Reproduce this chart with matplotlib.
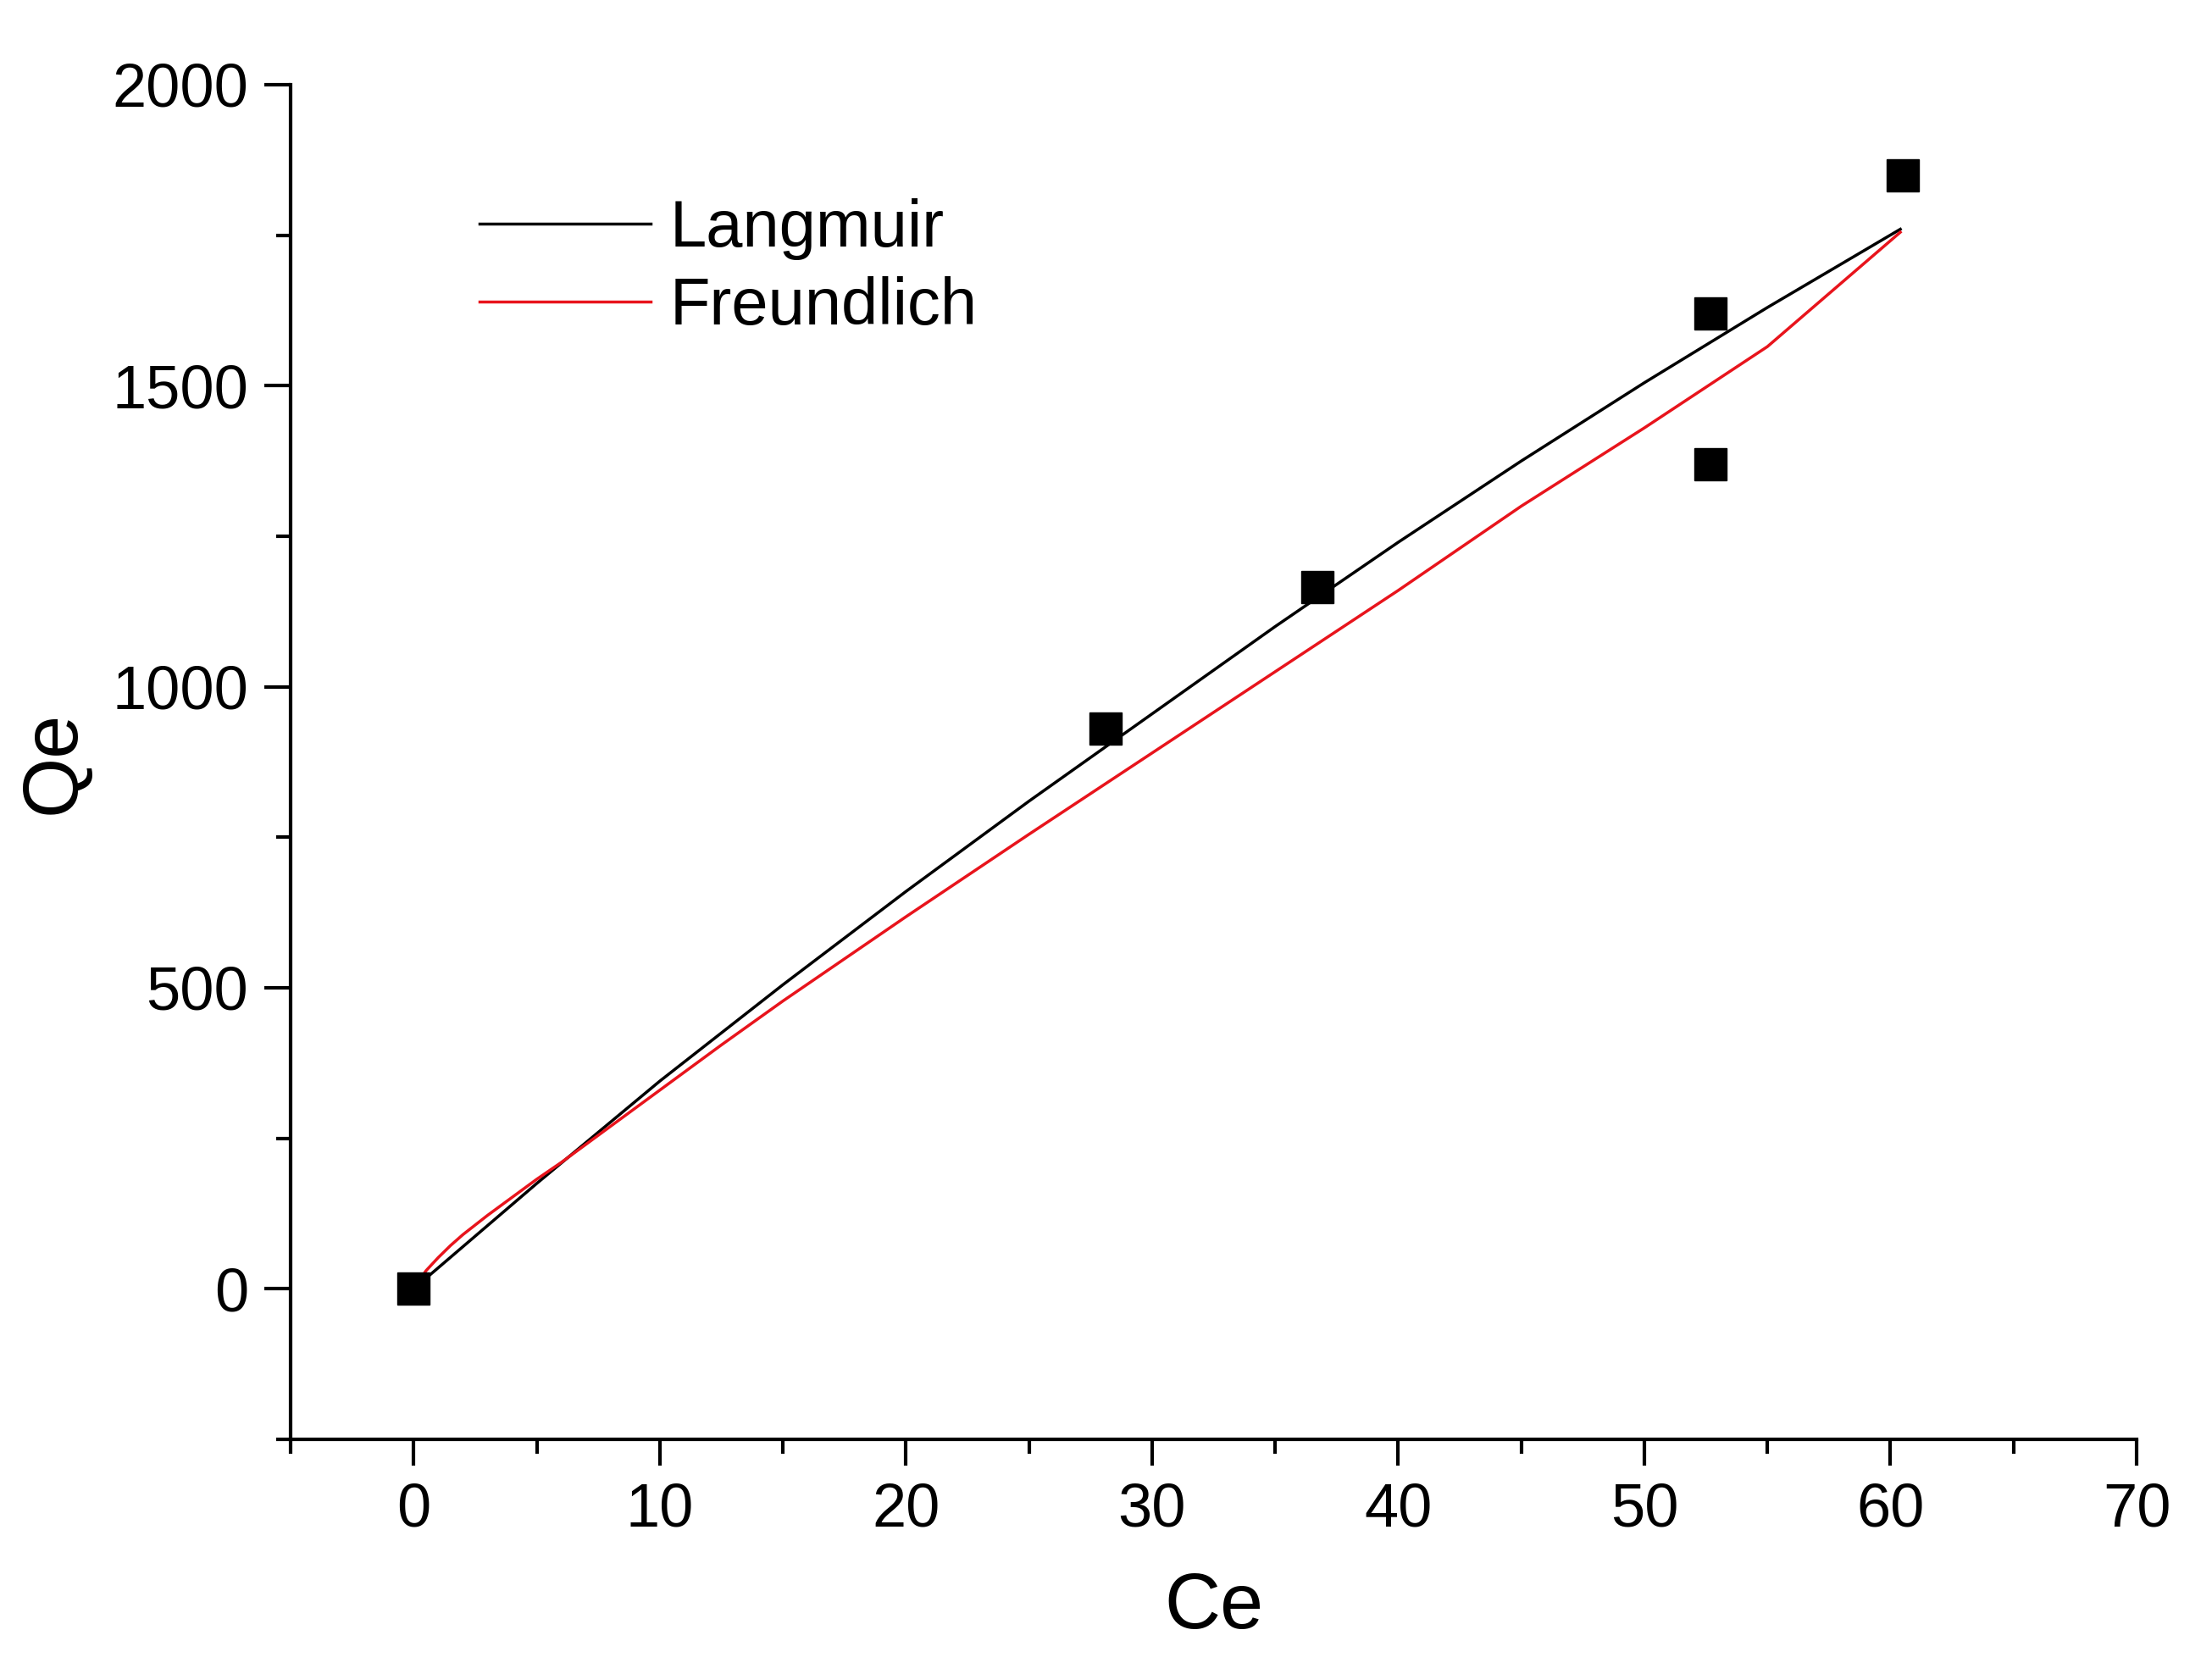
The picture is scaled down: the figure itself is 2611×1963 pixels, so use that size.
import matplotlib

matplotlib.use("Agg")
import matplotlib.pyplot as plt
from matplotlib.ticker import MultipleLocator

plt.rcParams["font.family"] = ["Liberation Sans", "DejaVu Sans"]

# measured points
ce_data = [0, 28.1, 36.7, 52.7, 52.7, 60.5]
qe_data = [0, 930, 1165, 1620, 1370, 1850]

# fitted curves
lang_ce = [0, 5, 10, 15, 20, 25, 30, 35, 40, 45, 50, 55, 60.4]
lang_qe = [0, 175, 345, 505, 660, 810, 955, 1100, 1240, 1375, 1505, 1630, 1760]
freu_ce = [0, 0.5, 1, 1.5, 2, 3, 4, 5, 6, 7, 8.5, 10, 12.5, 15, 17.5, 20, 25, 30, 35, 40, 45, 50, 55, 60.4]
freu_qe = [0, 30, 52, 72, 90, 122, 152, 182, 210, 240, 285, 330, 405, 478, 548, 618, 755, 890, 1025, 1160, 1300, 1430, 1565, 1755]

fig = plt.figure(figsize=(26.11, 19.63), dpi=100)
ax = fig.add_axes([343 / 2611, 1 - 1699 / 1963, (2522 - 343) / 2611, (1699 - 100) / 1963])

ax.plot(lang_ce, lang_qe, color="black", lw=2.5, label="Langmuir")
ax.plot(freu_ce, freu_qe, color="#e8141c", lw=2.5, label="Freundlich")
ax.plot(ce_data, qe_data, "s", color="black", ms=27, label="_nolegend_")

ax.set_xlim(-5, 70)
ax.set_ylim(-250, 2000)
ax.xaxis.set_major_locator(MultipleLocator(10))
ax.xaxis.set_minor_locator(MultipleLocator(5))
ax.yaxis.set_major_locator(MultipleLocator(500))
ax.yaxis.set_minor_locator(MultipleLocator(250))
for s in ("top", "right"):
    ax.spines[s].set_visible(False)
for s in ("left", "bottom"):
    ax.spines[s].set_linewidth(3)
ax.tick_params(which="major", direction="out", length=22, width=3, labelsize=52, pad=14)
ax.tick_params(which="minor", direction="out", length=12, width=3)

ax.set_xlabel("Ce", fontsize=66, labelpad=28)
ax.set_ylabel("Qe", fontsize=66, labelpad=18)

ax.legend(loc="upper left", bbox_to_anchor=(0.07, 0.96), frameon=False, fontsize=56,
          handlelength=2.6, handletextpad=0.3, labelspacing=0.25)

fig.savefig("out.png", dpi=100)
